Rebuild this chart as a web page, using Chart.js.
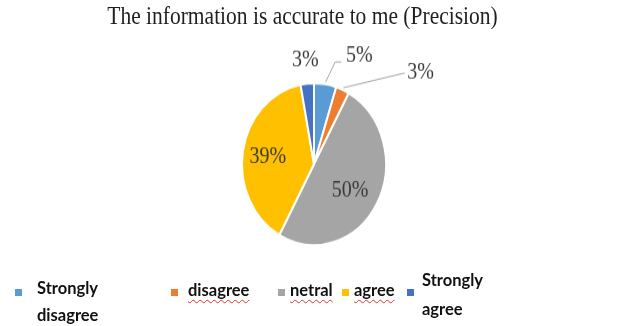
<!DOCTYPE html>
<html>
<head>
<meta charset="utf-8">
<script src="https://cdn.jsdelivr.net/npm/chart.js@4"></script>
<style>
  html, body { margin: 0; padding: 0; background: #fff; }
  #wrap { position: relative; width: 618px; height: 326px; overflow: hidden; }
  #stretch { position: absolute; left: 0; top: 0; width: 618px; height: 290px;
             transform: scaleY(1.1241); transform-origin: 0 0; }
  #title { position: absolute; left: 0; top: 3px; width: 605px; text-align: center;
           font-family: "Liberation Serif", "Times New Roman", serif; font-size: 21.5px;
           line-height: 23.1px; color: #1f1f1f; white-space: nowrap; }
  .lg-item { position: absolute; font-family: Lato, "Noto Sans", sans-serif; font-weight: bold;
             font-size: 16.5px; color: #111; }
  .lg-mark { position: absolute; width: 7px; height: 7px; }
  .wavy { text-decoration: underline wavy #e03030; text-decoration-thickness: 1px;
          text-underline-offset: 3px; }
</style>
</head>
<body>
<div id="wrap">
  <div id="stretch">
    <canvas id="c" width="618" height="290" style="width:618px;height:290px"></canvas>
    <div id="title"></div>
  </div>
</div>
<script>
const chartTitle = 'The information is accurate to me (Precision)';
const categories = ['Strongly disagree', 'disagree', 'netral', 'agree', 'Strongly agree'];
const values = [5, 3, 50, 39, 3];
const colors = ['#5B9BD5', '#ED7D31', '#A5A5A5', '#FFC000', '#4472C4'];
const spellFlag = [false, true, true, true, false];

document.getElementById('title').textContent = chartTitle;

// label placement (style/config, relative to each slice's own geometry)
const labelPlace = [
  { mode: 'outside', dx: 34, dy: -25, leader: [[10, -19.7], [16, -19.7]] },
  { mode: 'outside', dx: 78, dy: -15, leader: [[62, -15]] },
  { mode: 'inside', r: 0.62, dx: -3, dy: 2 },
  { mode: 'inside', r: 0.62, dx: -2, dy: 1 },
  { mode: 'outside', dx: -2, dy: -21 }
];

const sliceLabels = {
  id: 'sliceLabels',
  afterDatasetsDraw(chart) {
    const ctx = chart.ctx;
    const meta = chart.getDatasetMeta(0);
    ctx.save();
    ctx.font = '20px "Liberation Serif", "Times New Roman", serif';
    ctx.fillStyle = '#3a3a3a';
    ctx.textAlign = 'center';
    ctx.textBaseline = 'middle';
    ctx.strokeStyle = '#A6A6A6';
    ctx.lineWidth = 1;
    meta.data.forEach((arc, i) => {
      const p = labelPlace[i];
      const { x, y, startAngle, endAngle, outerRadius } =
        arc.getProps(['x', 'y', 'startAngle', 'endAngle', 'outerRadius'], true);
      const mid = (startAngle + endAngle) / 2;
      const cx = Math.cos(mid), cy = Math.sin(mid);
      let lx, ly;
      if (p.mode === 'inside') {
        lx = x + cx * outerRadius * p.r + p.dx;
        ly = y + cy * outerRadius * p.r + p.dy;
      } else {
        const ox = x + cx * outerRadius, oy = y + cy * outerRadius;
        lx = ox + p.dx; ly = oy + p.dy;
        if (p.leader) {
          ctx.beginPath();
          ctx.moveTo(ox + cx * 2, oy + cy * 2);
          p.leader.forEach(([a, b]) => ctx.lineTo(ox + a, oy + b));
          ctx.stroke();
        }
      }
      ctx.fillText(values[i] + '%', lx, ly);
    });
    ctx.restore();
  }
};

new Chart(document.getElementById('c'), {
  type: 'pie',
  data: {
    labels: categories,
    datasets: [{
      data: values,
      backgroundColor: colors,
      borderColor: '#ffffff',
      borderWidth: 2,
      radius: 72
    }]
  },
  options: {
    responsive: false,
    animation: false,
    devicePixelRatio: 1,
    events: [],
    layout: { padding: { left: 10, right: 0, top: 26, bottom: 24 } },
    plugins: {
      legend: { display: false },
      tooltip: { enabled: false },
      title: { display: false }
    }
  },
  plugins: [sliceLabels]
});

// HTML legend built from the same arrays
const legendLayout = [
  { mx: 15, tx: 37, top: 274.8, lh: 27, w: 74 },
  { mx: 171, tx: 188, top: 276.8, lh: 27, w: 90 },
  { mx: 278, tx: 290, top: 276.8, lh: 27, w: 60 },
  { mx: 342, tx: 354, top: 276.8, lh: 27, w: 60 },
  { mx: 407, tx: 422, top: 266.2, lh: 29, w: 70 }
];
const wrap = document.getElementById('wrap');
categories.forEach((name, i) => {
  const L = legendLayout[i];
  const m = document.createElement('div');
  m.className = 'lg-mark';
  m.style.left = L.mx + 'px';
  m.style.top = '289px';
  m.style.background = colors[i];
  wrap.appendChild(m);
  const t = document.createElement('div');
  t.className = 'lg-item';
  t.style.left = L.tx + 'px';
  t.style.top = L.top + 'px';
  t.style.lineHeight = L.lh + 'px';
  t.style.width = L.w + 'px';
  const s = document.createElement('span');
  if (spellFlag[i]) s.className = 'wavy';
  s.textContent = name;
  t.appendChild(s);
  wrap.appendChild(t);
});
</script>
</body>
</html>
